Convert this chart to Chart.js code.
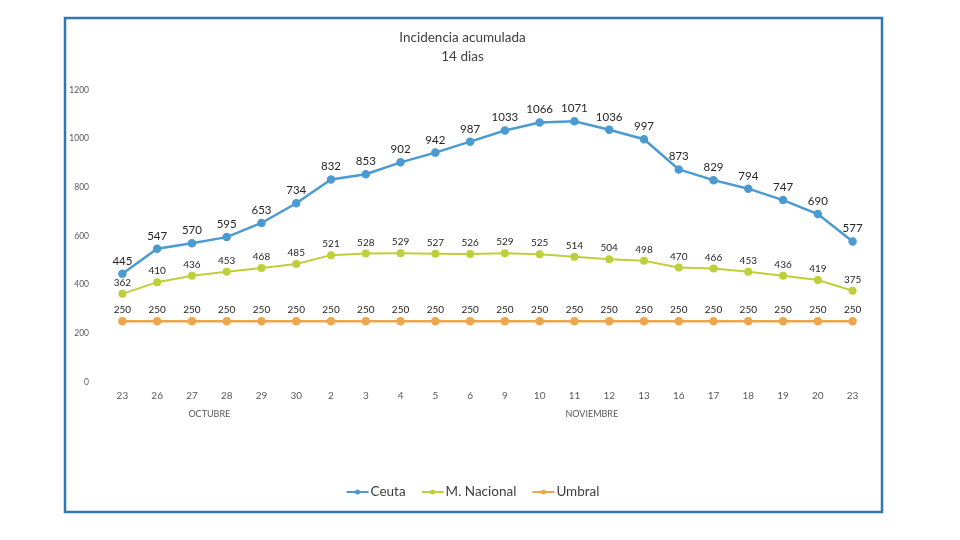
<!DOCTYPE html>
<html>
<head>
<meta charset="utf-8">
<script src="https://cdn.jsdelivr.net/npm/chart.js@4.4.0/dist/chart.umd.min.js"></script>
<style>
  html, body { margin: 0; padding: 0; background: #fff; }
  #wrap { width: 960px; height: 540px; }
</style>
</head>
<body>
<div id="wrap"><canvas id="chart" width="960" height="540"></canvas></div>
<script>
// Datos
const dias = ['23', '26', '27', '28', '29', '30', '2', '3', '4', '5', '6', '9', '10', '11', '12', '13', '16', '17', '18', '19', '20', '23'];
const ceuta = [445, 547, 570, 595, 653, 734, 832, 853, 902, 942, 987, 1033, 1066, 1071, 1036, 997, 873, 829, 794, 747, 690, 577];
const nacional = [362, 410, 436, 453, 468, 485, 521, 528, 529, 527, 526, 529, 525, 514, 504, 498, 470, 466, 453, 436, 419, 375];
const umbral = [250, 250, 250, 250, 250, 250, 250, 250, 250, 250, 250, 250, 250, 250, 250, 250, 250, 250, 250, 250, 250, 250];
const meses = ['OCTUBRE', 'NOVIEMBRE'];
const mesesPos = [[2, 3], [13, 14]]; // entre qué días va el nombre del mes

const FONT = 'Lato, "Open Sans", sans-serif';

// Marco azul alrededor del gráfico
const marco = {
    id: 'marco',
    afterDraw(chart) {
        const ctx = chart.ctx;
        ctx.save();
        ctx.strokeStyle = '#2f78b4';
        ctx.lineWidth = 2.5;
        ctx.strokeRect(65, 18, 817, 494);
        ctx.restore();
    }
};

// Etiquetas de valores encima de los puntos
const etiquetas = {
    id: 'etiquetas',
    afterDatasetsDraw(chart) {
        const ctx = chart.ctx;
        ctx.save();
        ctx.textAlign = 'center';
        ctx.textBaseline = 'bottom';
        chart.data.datasets.forEach((ds, i) => {
            const meta = chart.getDatasetMeta(i);
            ctx.font = (i === 0 ? '11.5px ' : '10px ') + FONT;
            ctx.fillStyle = '#262626';
            meta.data.forEach((pt, j) => {
                ctx.fillText(ds.data[j], pt.x, pt.y - (i === 0 ? 7 : 6));
            });
        });
        ctx.restore();
    }
};

// Nombres de los meses bajo el eje X
const mesesPlugin = {
    id: 'meses',
    afterDraw(chart) {
        const ctx = chart.ctx;
        const x = chart.scales.x;
        ctx.save();
        ctx.font = '9px ' + FONT;
        ctx.fillStyle = '#595959';
        ctx.textAlign = 'center';
        ctx.textBaseline = 'middle';
        meses.forEach((m, i) => {
            const px = (x.getPixelForValue(mesesPos[i][0]) + x.getPixelForValue(mesesPos[i][1])) / 2;
            ctx.fillText(m, px, 414);
        });
        ctx.restore();
    }
};

// Leyenda estilo Excel (línea con punto)
const leyenda = {
    id: 'leyenda',
    afterDraw(chart) {
        const ctx = chart.ctx;
        const dsets = chart.data.datasets;
        ctx.save();
        ctx.font = '13.5px ' + FONT;
        ctx.textBaseline = 'middle';
        const lineW = 22, gap = 2, sep = 16;
        let total = 0;
        dsets.forEach((ds, i) => {
            total += lineW + gap + ctx.measureText(ds.label).width + (i < dsets.length - 1 ? sep : 0);
        });
        let x = 473 - total / 2;
        const y = 492;
        dsets.forEach(ds => {
            ctx.strokeStyle = ds.borderColor;
            ctx.lineWidth = 2;
            ctx.beginPath();
            ctx.moveTo(x, y);
            ctx.lineTo(x + lineW, y);
            ctx.stroke();
            ctx.fillStyle = ds.borderColor;
            ctx.beginPath();
            ctx.arc(x + lineW / 2, y, 2.5, 0, Math.PI * 2);
            ctx.fill();
            x += lineW + gap;
            ctx.fillStyle = '#404040';
            ctx.fillText(ds.label, x, y);
            x += ctx.measureText(ds.label).width + sep;
        });
        ctx.restore();
    }
};

function serie(label, data, color, width) {
    return {
        label: label,
        data: data,
        borderColor: color,
        backgroundColor: color,
        borderWidth: width,
        pointRadius: 3,
        pointHoverRadius: 3,
        pointBackgroundColor: color,
        pointBorderColor: color,
        tension: 0
    };
}

new Chart(document.getElementById('chart'), {
    type: 'line',
    data: {
        labels: dias,
        datasets: [
            serie('Ceuta', ceuta, '#4b9ad2', 2.5),
            serie('M. Nacional', nacional, '#bfcf3c', 2),
            serie('Umbral', umbral, '#eea64c', 2.5)
        ]
    },
    options: {
        responsive: false,
        animation: false,
        layout: {
            padding: { left: 55, right: 90, top: 28, bottom: 65 }
        },
        plugins: {
            legend: { display: false },
            tooltip: { enabled: false },
            title: {
                display: true,
                text: ['Incidencia acumulada', '14 dias'],
                color: '#404040',
                font: { family: FONT, size: 13.5, weight: 'normal', lineHeight: 1.4 },
                padding: { top: 0, bottom: 24 }
            }
        },
        scales: {
            x: {
                offset: true,
                afterFit(s) { s.height = 93; },
                grid: { display: false },
                border: { display: false },
                ticks: {
                    color: '#595959',
                    font: { family: FONT, size: 10 },
                    padding: 0,
                    maxRotation: 0,
                    autoSkip: false
                }
            },
            y: {
                min: 0,
                max: 1200,
                afterFit(s) { s.width = 50; },
                grid: { display: false },
                border: { display: false },
                ticks: {
                    stepSize: 200,
                    color: '#595959',
                    padding: 8,
                    font: { family: FONT, size: 8.5 },
                    callback: v => String(v)
                }
            }
        }
    },
    plugins: [marco, etiquetas, mesesPlugin, leyenda]
});
</script>
</body>
</html>
